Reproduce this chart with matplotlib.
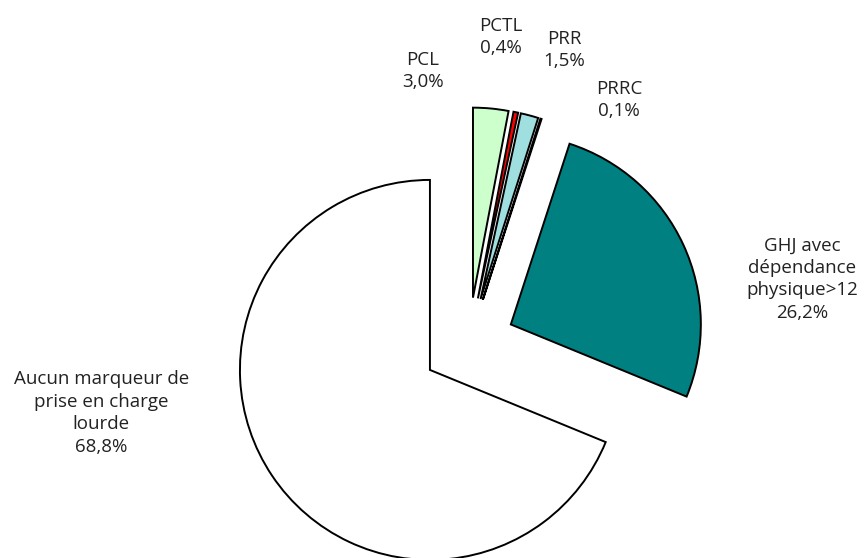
import matplotlib
matplotlib.use("Agg")
import matplotlib.pyplot as plt

categories = ["Aucun marqueur de\nprise en charge\nlourde", "GHJ avec\ndépendance\nphysique>12",
              "PRRC", "PRR", "PCTL", "PCL"]
values = [68.8, 26.2, 0.1, 1.5, 0.4, 3.0]
value_labels = ["68,8%", "26,2%", "0,1%", "1,5%", "0,4%", "3,0%"]

colors = ["#FFFFFF", "#008080", "#336666", "#A0DFE0", "#FF0000", "#CCFFCC"]
label_pos = [(-1.934, -0.363), (1.757, 0.342), (0.792, 1.284),
             (0.503, 1.547), (0.171, 1.616), (-0.24, 1.437)]

W, H, dpi = 867, 558, 100
cx, cy, R = 468.6, 344.0, 190.0

plt.rcParams['font.family'] = ['Open Sans', 'DejaVu Sans']
fig = plt.figure(figsize=(W / dpi, H / dpi), dpi=dpi)
ax = fig.add_axes([0, 0, 1, 1])
ax.pie(values, colors=colors, startangle=90, counterclock=True,
       explode=[0.245] * len(values), radius=1.0,
       wedgeprops=dict(edgecolor="black", linewidth=1.4))
ax.set_xlim(-cx / R, (W - cx) / R)
ax.set_ylim(-(H - cy) / R, cy / R)
ax.set_aspect("auto")
ax.axis("off")

for name, vl, (x, y) in zip(categories, value_labels, label_pos):
    ax.text(x, y, f"{name}\n{vl}", ha="center", va="center", fontsize=13.5,
            color="#222222", linespacing=1.32)

fig.savefig("out.png", dpi=dpi, facecolor="white")
